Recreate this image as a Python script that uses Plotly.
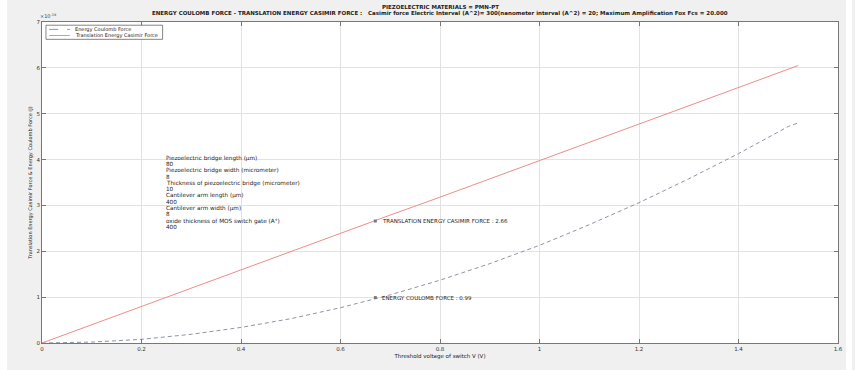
import plotly.graph_objects as go

# Threshold voltage of switch (V)
voltage = [0, 0.1, 0.2, 0.3, 0.4, 0.5, 0.6, 0.7, 0.8, 0.9, 1.0, 1.1, 1.2, 1.3, 1.4, 1.5, 1.52]
# Energy Coulomb force (x1e-19 J)
coulomb = [0, 0.02, 0.08, 0.19, 0.34, 0.53, 0.77, 1.05, 1.37, 1.73, 2.13, 2.58, 3.06, 3.58, 4.13, 4.72, 4.80]
# Translation energy Casimir force (x1e-19 J)
casimir = [0, 0.40, 0.80, 1.19, 1.59, 1.99, 2.39, 2.79, 3.18, 3.58, 3.98, 4.38, 4.78, 5.17, 5.57, 5.97, 6.05]

# data tips
tip_voltage = 0.67
tip_coulomb = 0.99
tip_casimir = 2.66

x_ticks = [0, 0.2, 0.4, 0.6, 0.8, 1.0, 1.2, 1.4, 1.6]
x_tick_text = ["0", "0.2", "0.4", "0.6", "0.8", "1", "1.2", "1.4", "1.6"]
y_ticks = [0, 1, 2, 3, 4, 5, 6, 7]

series_names = ["Energy Coulomb Force", "Translation Energy Casimir Force"]

param_lines = [
    "Piezoelectric bridge length (μm)", "80",
    "Piezoelectric bridge width (micrometer)", "8",
    "Thickness of piezoelectric bridge (micrometer)", "10",
    "Cantilever arm length (μm)", "400",
    "Cantilever arm width (μm)", "8",
    "oxide thickness of MOS switch gate (A°)", "400",
]

FONT = "DejaVu Sans, Liberation Sans, sans-serif"
RED = "rgb(238,140,140)"
DASH = "rgb(140,148,165)"
TXT = "#222"

fig = go.Figure()
fig.add_trace(go.Scatter(
    x=voltage, y=coulomb, mode="lines", name=series_names[0],
    line=dict(color=DASH, width=1, dash="4px,3px"), showlegend=False,
))
fig.add_trace(go.Scatter(
    x=voltage, y=casimir, mode="lines", name=series_names[1],
    line=dict(color=RED, width=1), showlegend=False,
))
fig.add_trace(go.Scatter(
    x=[tip_voltage, tip_voltage], y=[tip_coulomb, tip_casimir], mode="markers",
    marker=dict(color="rgb(120,120,120)", size=3, symbol="square"),
    showlegend=False, hoverinfo="skip",
))

fig.add_annotation(x=tip_voltage, y=tip_casimir, xref="x", yref="y",
                   text=f"TRANSLATION ENERGY CASIMIR FORCE : {tip_casimir:.2f}",
                   showarrow=False, xanchor="left", xshift=5,
                   font=dict(size=5.5, color=TXT, family=FONT))
fig.add_annotation(x=tip_voltage, y=tip_coulomb, xref="x", yref="y",
                   text=f"ENERGY COULOMB FORCE : {tip_coulomb:.2f}",
                   showarrow=False, xanchor="left", xshift=5,
                   font=dict(size=5.5, color=TXT, family=FONT))

# parameter block, one annotation per line
for i, line in enumerate(param_lines):
    fig.add_annotation(x=0.246, y=4.15, xref="x", yref="y", yshift=-6.3 * i,
                       text=line, showarrow=False, xanchor="left", yanchor="top",
                       font=dict(size=5.7, color=TXT, family=FONT))

# compact legend box in the upper-left corner
fig.add_shape(type="rect", xref="paper", yref="paper",
              x0=0.005, x1=0.1515, y0=0.946, y1=0.99,
              line=dict(color="#666", width=0.8), fillcolor="white", layer="above")
legend_y = [0.977, 0.958]
legend_styles = [dict(color=DASH, width=1, dash="dash"), dict(color=RED, width=1)]
for name, ly, style in zip(series_names, legend_y, legend_styles):
    fig.add_shape(type="line", xref="paper", yref="paper",
                  x0=0.009, x1=0.035, y0=ly, y1=ly, line=style, layer="above")
    fig.add_annotation(x=0.039, y=ly, xref="paper", yref="paper", text=name,
                       showarrow=False, xanchor="left", yanchor="middle",
                       font=dict(size=5, color=TXT, family=FONT))

# titles
fig.add_annotation(x=0.5, y=1.0, xref="paper", yref="paper", yshift=10,
                   text="<b>PIEZOELECTRIC MATERIALS = PMN-PT</b>",
                   showarrow=False, xanchor="center", yanchor="bottom",
                   font=dict(size=5.5, color=TXT, family=FONT))
fig.add_annotation(x=0.5, y=1.0, xref="paper", yref="paper", yshift=3,
                   text="<b>ENERGY COULOMB FORCE - TRANSLATION ENERGY CASIMIR FORCE :   Casimir force Electric Interval (A^2)= 300(nanometer interval (A^2) = 20; Maximum Amplification Fox Fcs = 20.000</b>",
                   showarrow=False, xanchor="center", yanchor="bottom",
                   font=dict(size=5.5, color=TXT, family=FONT))
fig.add_annotation(x=0, y=1.0, xref="paper", yref="paper", yshift=1, xshift=-4,
                   text="×10<sup>-19</sup>", showarrow=False,
                   xanchor="left", yanchor="bottom",
                   font=dict(size=5, color="#444", family=FONT))

# white frame strips at the left and right edges of the figure
for x0, x1 in [(-0.0526, -0.0438), (1.0100, 1.0176)]:
    fig.add_shape(type="rect", xref="paper", yref="paper", x0=x0, x1=x1,
                  y0=-0.1, y1=1.1, line=dict(width=0), fillcolor="white", layer="above")

axis_common = dict(showgrid=True, gridcolor="rgb(226,226,226)", gridwidth=1,
                   zeroline=False, showline=True, linecolor="#777", linewidth=1,
                   mirror="ticks", ticks="inside", ticklen=4, tickcolor="#777",
                   tickfont=dict(size=5.5, color="#333", family=FONT))

fig.update_layout(
    width=855, height=370,
    margin=dict(l=42, r=14, t=22, b=27),
    paper_bgcolor="rgb(240,240,240)",
    plot_bgcolor="white",
    font=dict(family=FONT, size=5.5, color="#333"),
    showlegend=False,
    xaxis=dict(range=[0, 1.6], tickvals=x_ticks, ticktext=x_tick_text,
               title=dict(text="Threshold voltage of switch V (V)",
                          font=dict(size=5.5, color=TXT), standoff=3),
               **axis_common),
    yaxis=dict(range=[0, 7], tickvals=y_ticks,
               title=dict(text="Translation Energy Casimir Force & Energy Coulomb Force (J)",
                          font=dict(size=5, color=TXT), standoff=3),
               **axis_common),
)

fig.write_html("out.html")
